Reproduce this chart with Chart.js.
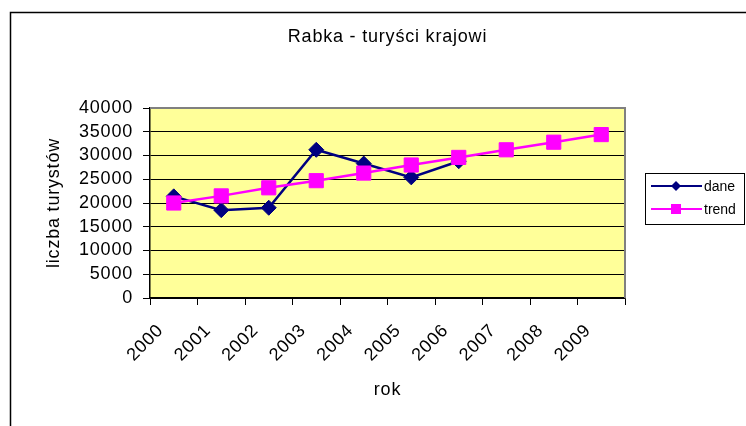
<!DOCTYPE html>
<html>
<head>
<meta charset="utf-8">
<script src="https://cdn.jsdelivr.net/npm/chart.js@4/dist/chart.umd.min.js"></script>
<style>
  body { margin: 0; background: #fff; }
  canvas { display: block; }
</style>
</head>
<body>
<canvas id="chart" width="746" height="426"></canvas>
<script>
// dane
const years = ['2000', '2001', '2002', '2003', '2004', '2005', '2006', '2007', '2008', '2009'];
const dane = [21400, 18500, 19000, 31200, 28300, 25400, 28800];
const trend = [20000, 21500, 23200, 24700, 26300, 28000, 29600, 31200, 32800, 34400];
const yMin = 0, yMax = 40000, yStep = 5000;

const FONT = "'Liberation Sans', Arial, sans-serif";
Chart.defaults.font.family = FONT;
Chart.defaults.color = '#000';

// tlo, ramka i legenda w stylu Excela
const frame = {
    id: 'frame',
    beforeDraw(chart) {
        const { ctx, chartArea: a } = chart;
        ctx.save();
        ctx.fillStyle = '#ffffff';
        ctx.fillRect(0, 0, chart.width, chart.height);
        ctx.fillStyle = '#ffff99';
        ctx.fillRect(a.left, a.top, a.right - a.left, a.bottom - a.top);
        ctx.strokeStyle = '#000';
        ctx.lineWidth = 1.5;
        ctx.beginPath();
        ctx.moveTo(10.5, chart.height);
        ctx.lineTo(10.5, 12.5);
        ctx.lineTo(chart.width, 12.5);
        ctx.stroke();
        ctx.restore();
        ctx.letterSpacing = '0.8px';
    },
    beforeDatasetsDraw(chart) {
        const { ctx, chartArea: a } = chart;
        ctx.save();
        ctx.strokeStyle = '#808080';
        ctx.lineWidth = 2;
        ctx.beginPath();
        ctx.moveTo(a.left, a.top);
        ctx.lineTo(a.right, a.top);
        ctx.lineTo(a.right, a.bottom);
        ctx.stroke();
        ctx.restore();
    },
    afterDraw(chart) {
        const ctx = chart.ctx;
        ctx.save();
        ctx.letterSpacing = '0px';
        ctx.fillStyle = '#fff';
        ctx.fillRect(645.5, 173.5, 99, 51);
        ctx.strokeStyle = '#000';
        ctx.lineWidth = 1;
        ctx.strokeRect(645.5, 173.5, 99, 51);
        const items = chart.data.datasets.slice().reverse();
        items.forEach((ds, i) => {
            const y = 186 + i * 23;
            ctx.strokeStyle = ds.borderColor;
            ctx.lineWidth = 2;
            ctx.beginPath();
            ctx.moveTo(651, y);
            ctx.lineTo(702, y);
            ctx.stroke();
            ctx.fillStyle = ds.borderColor;
            ctx.beginPath();
            if (ds.pointStyle === 'rectRot') {
                ctx.moveTo(676, y - 5); ctx.lineTo(681, y); ctx.lineTo(676, y + 5); ctx.lineTo(671, y);
                ctx.closePath();
            } else {
                ctx.rect(671, y - 5, 10, 10);
            }
            ctx.fill();
            ctx.fillStyle = '#000';
            ctx.font = '14px ' + FONT;
            ctx.textBaseline = 'middle';
            ctx.fillText(ds.label, 704, y + 1);
        });
        ctx.restore();
    }
};

new Chart(document.getElementById('chart'), {
    type: 'line',
    data: {
        labels: years,
        datasets: [
            {
                label: 'trend', data: trend, order: 0,
                borderColor: '#ff00ff', backgroundColor: '#ff00ff', borderWidth: 2.5,
                pointStyle: 'rect', pointRadius: 10, pointBorderWidth: 1, pointHoverRadius: 10
            },
            {
                label: 'dane', data: dane, order: 1,
                borderColor: '#000080', backgroundColor: '#000080', borderWidth: 2.5,
                pointStyle: 'rectRot', pointRadius: 7.5, pointBorderWidth: 1, pointHoverRadius: 7.5
            }
        ]
    },
    options: {
        responsive: false,
        animation: false,
        devicePixelRatio: 1,
        layout: { padding: { left: 39, right: 121, top: 0, bottom: 21 } },
        plugins: {
            legend: { display: false },
            tooltip: { enabled: false },
            title: {
                display: true,
                fullSize: false,
                text: 'Rabka - turyści krajowi',
                color: '#000',
                font: { size: 18, weight: 'normal' },
                padding: { top: 26, bottom: 60.4 }
            }
        },
        scales: {
            x: {
                offset: true,
                grid: { offset: true, drawOnChartArea: false, drawTicks: true, tickLength: 7, color: '#000' },
                border: { color: '#000', width: 1.5 },
                ticks: { minRotation: 45, maxRotation: 45, autoSkip: false, padding: 15, labelOffset: -13, color: '#000', font: { size: 18 } },
                title: { display: true, text: 'rok', color: '#000', font: { size: 18 }, padding: { top: 4, bottom: 4 } },
                afterFit(scale) { scale.height = 107; }
            },
            y: {
                min: yMin, max: yMax,
                grid: { color: '#000', lineWidth: 1, tickLength: 7 },
                border: { color: '#000', width: 1.5 },
                ticks: { stepSize: yStep, autoSkip: false, padding: 10, color: '#000', font: { size: 18 }, callback: v => String(v) },
                title: { display: true, text: 'liczba turystów', color: '#000', font: { size: 18 }, padding: { top: 4, bottom: 4 } },
                afterFit(scale) { scale.width = 111; }
            }
        }
    },
    plugins: [frame]
});
</script>
</body>
</html>
